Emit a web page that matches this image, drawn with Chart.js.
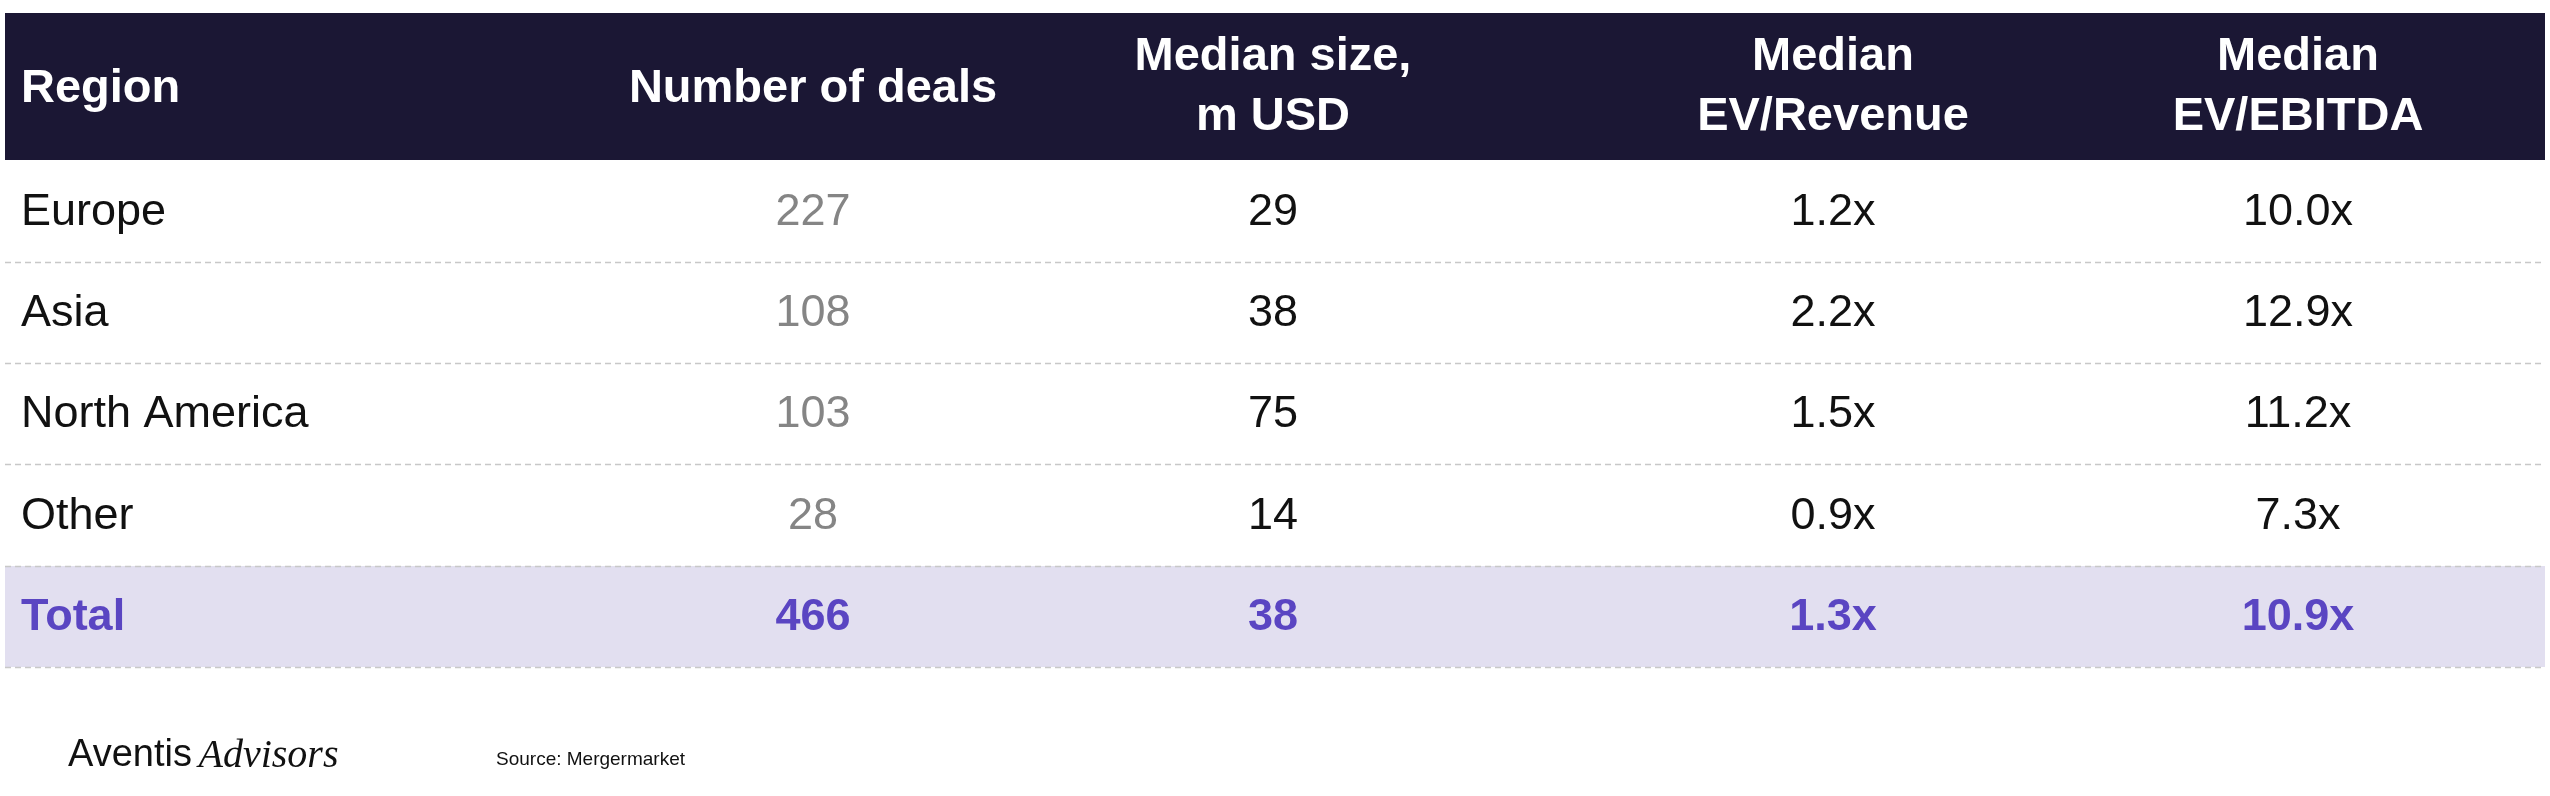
<!DOCTYPE html>
<html><head><meta charset="utf-8">
<script src="https://cdn.jsdelivr.net/npm/chart.js@4/dist/chart.umd.min.js"></script>
<style>html,body{margin:0;padding:0;background:#fff}canvas{display:block}</style>
</head><body>
<canvas id="c" width="2550" height="796"></canvas>
<script>
const headers = [["Region"],["Number of deals"],["Median size,","m USD"],["Median","EV/Revenue"],["Median","EV/EBITDA"]];
const regions = ["Europe","Asia","North America","Other","Total"];
const deals = ["227","108","103","28","466"];
const medianSize = ["29","38","75","14","38"];
const evRevenue = ["1.2x","2.2x","1.5x","0.9x","1.3x"];
const evEbitda = ["10.0x","12.9x","11.2x","7.3x","10.9x"];

const colX = [21, 813, 1273, 1833, 2298];
const rowY = [211, 312, 413, 515, 616];
const FONT = '"Liberation Sans", Arial, sans-serif';

const tablePlugin = {
  id:'table',
  afterDraw(chart){
    const ctx = chart.ctx;
    const xs = chart.scales.x, ys = chart.scales.y;
    const X = v => xs.getPixelForValue(v), Y = v => ys.getPixelForValue(v);
    ctx.save();
    // header
    ctx.fillStyle = '#1b1734';
    ctx.fillRect(X(5), Y(13), X(2545)-X(5), Y(160)-Y(13));
    // total band
    ctx.fillStyle = '#e2dff0';
    ctx.fillRect(X(5), Y(566), X(2545)-X(5), Y(667)-Y(566));
    // separators
    ctx.strokeStyle = '#c8c8c8'; ctx.lineWidth = 1.5; ctx.setLineDash([6,4]);
    [262,363,464,566,667].forEach(y=>{ctx.beginPath();ctx.moveTo(X(5),Y(y)+0.5);ctx.lineTo(X(2545),Y(y)+0.5);ctx.stroke();});
    ctx.setLineDash([]);
    // header text
    ctx.fillStyle = '#ffffff'; ctx.font = 'bold 47px '+FONT; ctx.textBaseline='middle';
    headers.forEach((h,i)=>{
      ctx.textAlign = i===0?'left':'center';
      if(h.length===1) ctx.fillText(h[0], X(colX[i]), Y(89));
      else { ctx.fillText(h[0], X(colX[i]), Y(57)); ctx.fillText(h[1], X(colX[i]), Y(117)); }
    });
    const cols = [regions, deals, medianSize, evRevenue, evEbitda];
    for(let r=0;r<regions.length;r++){
      const total = r===regions.length-1;
      ctx.font = (total?'bold ':'')+'45px '+FONT;
      cols.forEach((col,c)=>{
        ctx.textAlign = c===0?'left':'center';
        ctx.fillStyle = total ? '#5a45c2' : (c===1 ? '#858585' : '#111111');
        ctx.fillText(col[r], X(colX[c]), Y(rowY[r]+2));
      });
    }
    // footer
    ctx.fillStyle='#111'; ctx.textAlign='left';
    ctx.font = '38px '+FONT;
    ctx.fillText('Aventis', X(68), Y(756));
    const w = ctx.measureText('Aventis ').width;
    ctx.font = 'italic 40px "Liberation Serif", serif';
    ctx.fillText('Advisors', X(68)+w-4, Y(756));
    ctx.font = '19px '+FONT;
    ctx.fillText('Source: Mergermarket', X(496), Y(760));
    ctx.restore();
  }
};

new Chart(document.getElementById('c'), {
  type:'scatter',
  data:{datasets:[{data:[]}]},
  options:{
    responsive:false, animation:false, devicePixelRatio:1,
    layout:{padding:0},
    plugins:{legend:{display:false},tooltip:{enabled:false}},
    scales:{
      x:{type:'linear',min:0,max:2550,display:false},
      y:{type:'linear',min:0,max:796,reverse:true,display:false}
    }
  },
  plugins:[tablePlugin]
});
</script>
</body></html>
